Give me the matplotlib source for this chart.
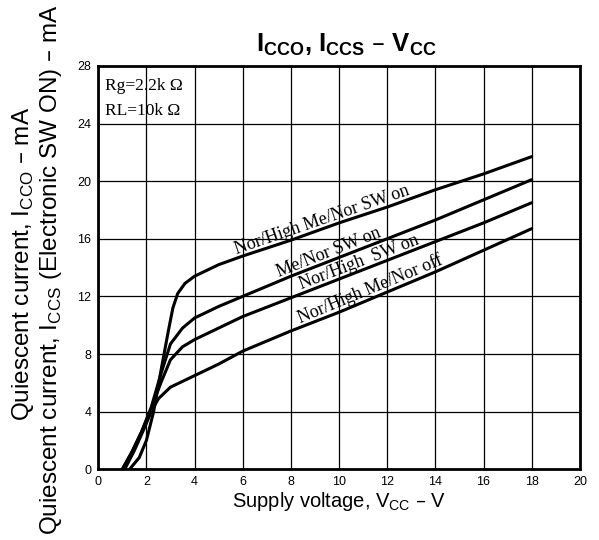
import matplotlib
matplotlib.use("Agg")
import numpy as np
import matplotlib.pyplot as plt

# curve data (Vcc in V, current in mA)
x_a = [1.3, 1.7, 2.0, 2.3, 2.6, 2.9, 3.1, 3.3, 3.6, 4.0, 5, 6, 8, 10, 12, 14, 16, 18]
y_a = [0, 0.8, 2.0, 4.0, 6.8, 9.5, 11.2, 12.2, 12.9, 13.4, 14.2, 14.8, 15.9, 17.1, 18.2, 19.4, 20.5, 21.7]

x_b = [1.0, 1.4, 1.8, 2.2, 2.6, 3.0, 3.5, 4, 5, 6, 8, 10, 12, 14, 16, 18]
y_b = [0, 1.2, 2.6, 4.3, 6.6, 8.7, 9.8, 10.5, 11.3, 12.0, 13.4, 14.7, 16.0, 17.3, 18.7, 20.1]

x_c = [1.0, 1.4, 1.8, 2.2, 2.6, 3.0, 3.5, 4, 5, 6, 8, 10, 12, 14, 16, 18]
y_c = [0, 1.2, 2.6, 4.2, 6.0, 7.6, 8.5, 9.0, 9.8, 10.6, 11.9, 13.2, 14.5, 15.8, 17.1, 18.5]

x_d = [1.1, 1.5, 1.9, 2.2, 2.5, 3.0, 3.5, 4, 5, 6, 8, 10, 12, 14, 16, 18]
y_d = [0, 1.3, 2.8, 4.0, 4.9, 5.7, 6.1, 6.5, 7.3, 8.2, 9.6, 10.9, 12.3, 13.7, 15.2, 16.7]

curve_labels = ["Nor/High Me/Nor SW on", "Me/Nor SW on",
                "Nor/High  SW on", "Nor/High Me/Nor off"]
label_x = [9.42, 9.7, 10.97, 11.45]
label_rot = [19, 21.5, 21, 22.5]

x_ticks = list(range(0, 21, 2))
y_ticks = list(range(0, 29, 4))

plt.rcParams['font.family'] = ['Liberation Sans', 'DejaVu Sans']

fig = plt.figure(figsize=(5.99, 5.40), dpi=100)
ax = fig.add_axes([0.164, 0.131, 0.804, 0.747])

curves = [(x_a, y_a), (x_b, y_b), (x_c, y_c), (x_d, y_d)]
for xs, ys in curves:
    ax.plot(xs, ys, color='black', lw=2.2, solid_capstyle='round', solid_joinstyle='round')

# labels sit on top of their own curve
for txt, lx, rot, (xs, ys) in zip(curve_labels, label_x, label_rot, curves):
    ly = np.interp(lx, xs, ys)
    d = 3.0
    ax.annotate(txt, xy=(lx, ly), xytext=(-d * np.sin(np.radians(rot)), d * np.cos(np.radians(rot))),
                textcoords='offset points', rotation=rot, rotation_mode='anchor',
                ha='center', va='baseline', family='Liberation Serif', fontsize=13)

ax.text(0.3, 26.6, "Rg=2.2k \u03a9", family='Liberation Serif', fontsize=12.5, va='center')
ax.text(0.3, 24.9, "RL=10k \u03a9", family='Liberation Serif', fontsize=12.5, va='center')

ax.set_xlim(0, 20)
ax.set_ylim(0, 28)
ax.set_xticks(x_ticks)
ax.set_yticks(y_ticks)
ax.tick_params(length=0, labelsize=9, pad=5)
ax.grid(True, color='black', lw=0.9)
for sp in ax.spines.values():
    sp.set_linewidth(2.0)

ax.set_xlabel("Supply voltage, V$_\\mathregular{CC}$ \u2013 V", fontsize=14.5, labelpad=1)
fig.text(0.579, 0.917, "I$_\\mathregular{CCO}$, I$_\\mathregular{CCS}$ \u2013 V$_\\mathregular{CC}$",
         ha='center', va='center', fontsize=18.5, fontweight='bold')

fig.text(0.038, 0.511, "Quiescent current, I$_\\mathregular{CCO}$ \u2013 mA",
         rotation=90, ha='center', va='center', fontsize=17.5)
fig.text(0.085, 0.50, "Quiescent current, I$_\\mathregular{CCS}$ (Electronic SW ON) \u2013 mA",
         rotation=90, ha='center', va='center', fontsize=17.5)

fig.savefig("out.png", dpi=100)
